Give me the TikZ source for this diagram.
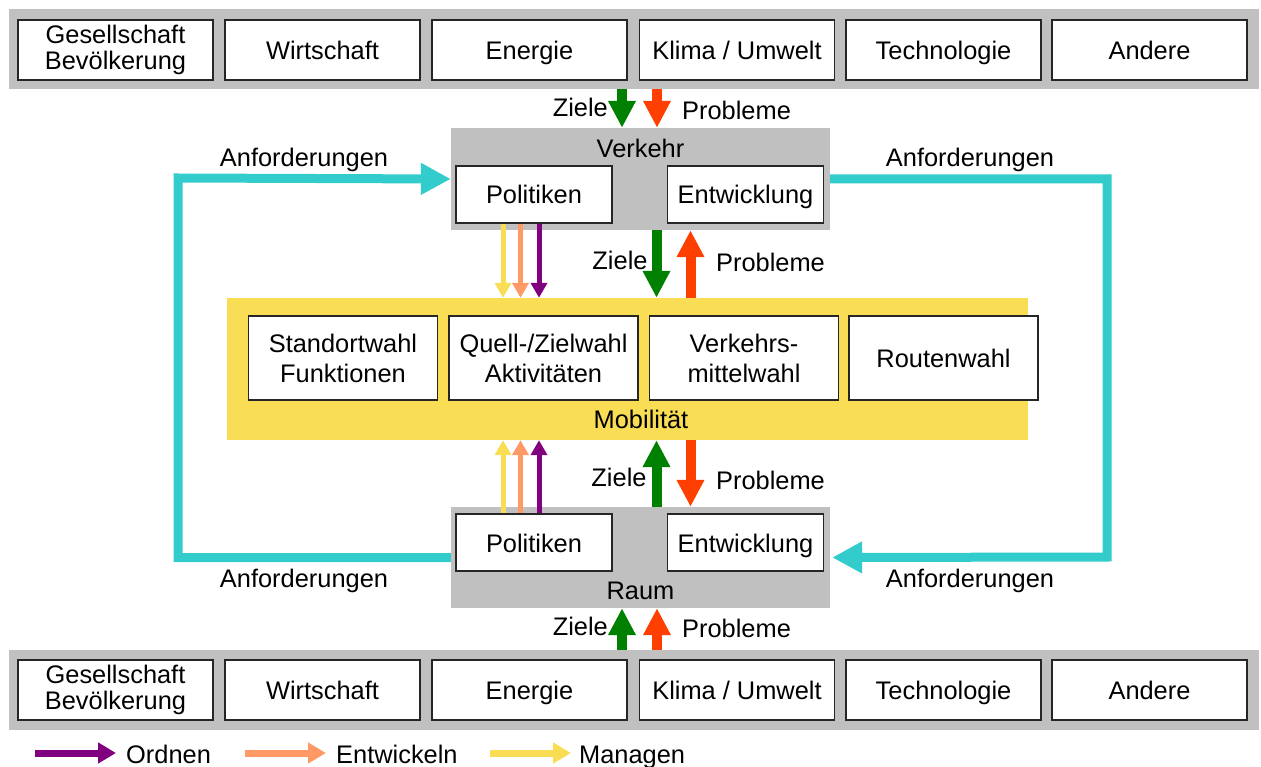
\documentclass[tikz,border=0pt]{standalone}
\usepackage{fontspec}
\setmainfont{Liberation Sans}
\usetikzlibrary{arrows.meta}
\definecolor{grayb}{HTML}{C0C0C0}
\definecolor{mobyel}{HTML}{F8DD55}
\definecolor{zgreen}{HTML}{008000}
\definecolor{pred}{HTML}{FF3F00}
\definecolor{cyanl}{HTML}{33CCCC}
\definecolor{orng}{HTML}{FF9966}
\definecolor{purp}{HTML}{800080}
\begin{document}
\begin{tikzpicture}[x=1pt,y=-1pt,
  font=\fontsize{25.4}{25.5}\selectfont,
  sl/.style={text height=21.2pt, text depth=2.2pt},
  bar/.style={fill=grayb, draw=none, inner sep=0pt},
  wbox/.style={draw=black!85, fill=white, line width=1.6pt, inner sep=0pt, align=center},
  topbox/.style={wbox, minimum width=195pt, minimum height=60pt},
  midbox/.style={wbox, sl, minimum width=156pt, minimum height=57pt},
  mobbox/.style={wbox, minimum width=189pt, minimum height=84pt, font=\fontsize{25.4}{30}\selectfont},
  lbl/.style={inner sep=0pt, sl},
  bigarr/.style={line width=10pt, -{Triangle[length=27pt,width=26pt]}},
  thinarr/.style={line width=5pt, -{Triangle[length=15pt,width=16pt]}},
  cyarr/.style={draw=cyanl, line width=9pt, line join=miter, -{Triangle[length=30pt,width=30pt]}},
  legarr/.style={line width=7pt, -{Triangle[length=18pt,width=20pt]}},
]
\useasboundingbox (0,0) rectangle (1261,767);

% top bar
\node[bar, minimum width=1250pt, minimum height=80pt] (topbar) at (633.5,49) {};
\node[topbox] (t1) at (115.5,50) {Gesellschaft\\Bevölkerung};
\node[topbox, sl] (t2) at (322.5,50) {Wirtschaft};
\node[topbox, sl] (t3) at (529.5,50) {Energie};
\node[topbox, sl] (t4) at (737,50) {Klima / Umwelt};
\node[topbox, sl] (t5) at (943.5,50) {Technologie};
\node[topbox, sl] (t6) at (1149.5,50) {Andere};

% bottom bar
\node[bar, minimum width=1250pt, minimum height=80pt] (botbar) at (633.5,690) {};
\node[topbox] (b1) at (115.5,690) {Gesellschaft\\Bevölkerung};
\node[topbox, sl] (b2) at (322.5,690) {Wirtschaft};
\node[topbox, sl] (b3) at (529.5,690) {Energie};
\node[topbox, sl] (b4) at (737,690) {Klima / Umwelt};
\node[topbox, sl] (b5) at (943.5,690) {Technologie};
\node[topbox, sl] (b6) at (1149.5,690) {Andere};

% Verkehr
\node[bar, minimum width=379pt, minimum height=102pt] (vk) at (640.5,179) {};
\node[lbl] (vklbl) at (640.5,148) {Verkehr};
\node[midbox] (vpol) at (534,194.5) {Politiken};
\node[midbox] (vent) at (745.5,194.5) {Entwicklung};

% Raum
\node[bar, minimum width=379pt, minimum height=101pt] (rm) at (640.5,557.5) {};
\node[lbl] (rmlbl) at (640.5,590) {Raum};
\node[midbox] (rpol) at (534,542.5) {Politiken};
\node[midbox] (rent) at (745.5,542.5) {Entwicklung};

% Mobilitaet
\node[fill=mobyel, draw=none, inner sep=0pt, minimum width=801pt, minimum height=142pt] (mob) at (627.5,369) {};
\node[mobbox] (m1) at (343,358) {Standortwahl\\Funktionen};
\node[mobbox] (m2) at (543.5,358) {Quell-/Zielwahl\\Aktivitäten};
\node[mobbox] (m3) at (744,358) {Verkehrs-\\mittelwahl};
\node[mobbox, sl] (m4) at (943.5,358) {Routenwahl};
\node[lbl] (moblbl) at (641,419) {Mobilität};

% Anforderungen loops
\coordinate (cl) at (178,178);
\coordinate (cr) at (1107,557);
\draw[cyarr] (rm.west) -| (cl) -- (vk.west);
\draw[cyarr] (vk.east) -| (cr) -- ([xshift=2pt]rm.east);
\node[lbl] (anf1) at (304,157) {Anforderungen};
\node[lbl] (anf2) at (970,157) {Anforderungen};
\node[lbl] (anf3) at (304,578) {Anforderungen};
\node[lbl] (anf4) at (970,578) {Anforderungen};

% top Ziele/Probleme
\draw[bigarr, draw=zgreen] ([xshift=-18.5pt]topbar.south -| vk.north) -- ([xshift=-18.5pt]vk.north);
\draw[bigarr, draw=pred] ([xshift=16.5pt]topbar.south -| vk.north) -- ([xshift=16.5pt]vk.north);
\node[lbl, anchor=east] (zt) at (608,107) {Ziele};
\node[lbl, anchor=west] (pt) at (682,110) {Probleme};

% Verkehr <-> Mobilitaet
\draw[bigarr, draw=zgreen] ([xshift=16pt]vk.south) -- ([xshift=16pt]vk.south |- mob.north);
\draw[bigarr, draw=pred] ([xshift=50pt]vk.south |- mob.north) -- ([xshift=50pt]vk.south);
\node[lbl] (zm1) at (620,260) {Ziele};
\node[lbl] (pm1) at (770.5,262) {Probleme};
\draw[thinarr, draw=mobyel] ([xshift=-31pt]vpol.south) -- ([xshift=-31pt]vpol.south |- mob.north);
\draw[thinarr, draw=orng] ([xshift=-13.5pt]vpol.south) -- ([xshift=-13.5pt]vpol.south |- mob.north);
\draw[thinarr, draw=purp] ([xshift=5pt]vpol.south) -- ([xshift=5pt]vpol.south |- mob.north);

% Raum <-> Mobilitaet
\draw[bigarr, draw=zgreen] ([xshift=16pt]rm.north) -- ([xshift=16pt]rm.north |- mob.south);
\draw[bigarr, draw=pred] ([xshift=50pt]rm.north |- mob.south) -- ([xshift=50pt]rm.north);
\node[lbl] (zm2) at (619,477) {Ziele};
\node[lbl] (pm2) at (770.5,480) {Probleme};
\draw[thinarr, draw=mobyel] ([xshift=-31pt]rpol.north) -- ([xshift=-31pt]rpol.north |- mob.south);
\draw[thinarr, draw=orng] ([xshift=-13.5pt]rpol.north) -- ([xshift=-13.5pt]rpol.north |- mob.south);
\draw[thinarr, draw=purp] ([xshift=5pt]rpol.north) -- ([xshift=5pt]rpol.north |- mob.south);

% bottom Ziele/Probleme
\draw[bigarr, draw=zgreen] ([xshift=-18.5pt]botbar.north -| rm.south) -- ([xshift=-18.5pt]rm.south);
\draw[bigarr, draw=pred] ([xshift=16.5pt]botbar.north -| rm.south) -- ([xshift=16.5pt]rm.south);
\node[lbl, anchor=east] (zb) at (608,626) {Ziele};
\node[lbl, anchor=west] (pb) at (682,628) {Probleme};

% legend
\coordinate (l1a) at (35,753); \coordinate (l1b) at (116,753);
\coordinate (l2a) at (245,753); \coordinate (l2b) at (326,753);
\coordinate (l3a) at (490,753); \coordinate (l3b) at (571,753);
\draw[legarr, draw=purp] (l1a) -- (l1b);
\draw[legarr, draw=orng] (l2a) -- (l2b);
\draw[legarr, draw=mobyel] (l3a) -- (l3b);
\node[lbl, anchor=west] (lg1) at (126,754) {Ordnen};
\node[lbl, anchor=west] (lg2) at (336,754) {Entwickeln};
\node[lbl, anchor=west] (lg3) at (579,754) {Managen};
\end{tikzpicture}
\end{document}
